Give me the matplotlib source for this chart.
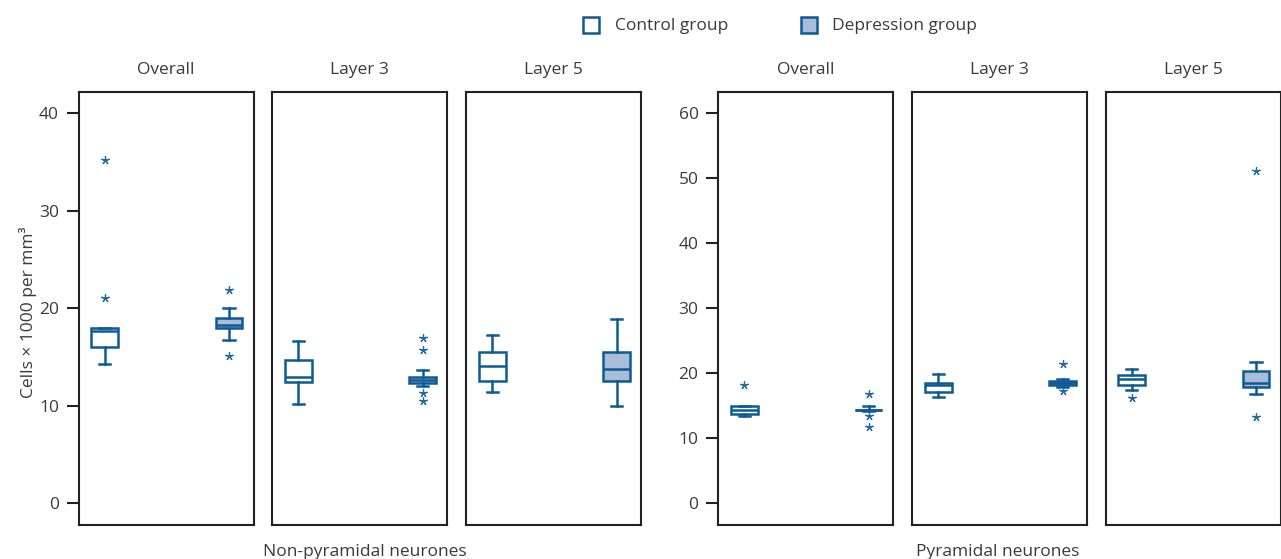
import matplotlib
matplotlib.use('Agg')
import matplotlib.pyplot as plt
from matplotlib.patches import Rectangle

# ---------------- data ----------------
groups = ['Non-pyramidal neurones', 'Pyramidal neurones']
layers = ['Overall', 'Layer 3', 'Layer 5']
series = ['Control group', 'Depression group']

# six panels: non-pyramidal (Overall, L3, L5), pyramidal (Overall, L3, L5)
med_ctrl = [17.7, 12.9, 14.05, 14.4, 18.25, 19.1]
q1_ctrl = [16.0, 12.45, 12.55, 13.7, 17.05, 18.25]
q3_ctrl = [18.0, 14.7, 15.5, 15.0, 18.55, 19.8]
lo_ctrl = [14.25, 10.2, 11.4, 13.4, 16.3, 17.45]
hi_ctrl = [18.0, 16.6, 17.3, 15.0, 19.95, 20.65]
out_ctrl = [[21.1, 35.25], [], [], [18.2], [], [16.15]]

med_dep = [18.3, 12.6, 13.75, 14.4, 18.55, 18.55]
q1_dep = [18.0, 12.3, 12.55, 14.4, 18.25, 17.95]
q3_dep = [19.05, 12.9, 15.5, 14.4, 18.75, 20.35]
lo_dep = [16.7, 12.05, 10.0, 14.2, 17.95, 16.75]
hi_dep = [20.0, 13.7, 18.85, 15.0, 19.2, 21.75]
out_dep = [[21.9, 15.1], [17.0, 15.7, 11.3, 10.45], [], [16.8, 13.5, 11.7],
           [21.45, 17.35], [13.2, 51.1]]

yticks_left = [0, 10, 20, 30, 40]
yticks_right = [0, 10, 20, 30, 40, 50, 60]

# ---------------- style ----------------
plt.rcParams['font.family'] = ['Open Sans', 'DejaVu Sans']
BLUE = '#0d5a95'
FILL = '#a9bcd8'
TXT = '#3a3a3a'

W, H = 1281, 559
fig = plt.figure(figsize=(W / 100, H / 100), dpi=100)

lefts = [78.5, 272, 466, 718, 912, 1105.5]
pw = 175
top, bot = 92, 525

def ax_rect(lx):
    return [lx / W, 1 - bot / H, pw / W, (bot - top) / H]

for i, lx in enumerate(lefts):
    ax = fig.add_axes(ax_rect(lx))
    left_group = i < 3
    if left_group:
        ax.set_ylim(-2.23, 42.18)
    else:
        ax.set_ylim(-3.34, 63.28)
    ax.set_xlim(0, 1)

    stats = [
        dict(med=med_ctrl[i], q1=q1_ctrl[i], q3=q3_ctrl[i],
             whislo=lo_ctrl[i], whishi=hi_ctrl[i], fliers=out_ctrl[i]),
        dict(med=med_dep[i], q1=q1_dep[i], q3=q3_dep[i],
             whislo=lo_dep[i], whishi=hi_dep[i], fliers=out_dep[i]),
    ]
    lw = 1.8
    bp = ax.bxp(stats, positions=[0.15, 0.86], widths=0.152,
                capwidths=0.065, patch_artist=True, manage_ticks=False,
                boxprops=dict(edgecolor=BLUE, linewidth=lw),
                whiskerprops=dict(color=BLUE, linewidth=lw),
                capprops=dict(color=BLUE, linewidth=lw),
                medianprops=dict(color=BLUE, linewidth=lw),
                flierprops=dict(marker=(5, 2, 0), markersize=6,
                                markerfacecolor=BLUE, markeredgecolor='#2369a6',
                                markeredgewidth=0.9, linestyle='none'))
    bp['boxes'][0].set_facecolor('white')
    bp['boxes'][1].set_facecolor(FILL)

    for s in ax.spines.values():
        s.set_linewidth(1.5)
        s.set_color('#222222')
    ax.set_xticks([])
    if i in (0, 3):
        ax.set_yticks(yticks_left if left_group else yticks_right)
        ax.tick_params(axis='y', length=9, width=1.5, color='#222222',
                       labelsize=12.5, labelcolor=TXT, pad=5)
    else:
        ax.set_yticks([])

    ax.text(0.5, 1 + 22 / (bot - top), layers[i % 3], transform=ax.transAxes,
            ha='center', va='center', fontsize=12.5, color=TXT)

# y label
fig.text(28 / W, 1 - 312 / H, 'Cells \u00d7 1000 per mm\u00b3', rotation=90,
         ha='center', va='center', fontsize=12.5, color=TXT)

# group labels
fig.text(365 / W, 1 - 552 / H, groups[0], ha='center', va='center',
         fontsize=12.5, color=TXT)
fig.text(998 / W, 1 - 552 / H, groups[1], ha='center', va='center',
         fontsize=12.5, color=TXT)

# legend
for x0, fc, lab, tx in [(583, 'white', series[0], 615),
                        (801, FILL, series[1], 832)]:
    r = Rectangle((x0 / W, 1 - 33 / H), 16 / W, 16 / H, transform=fig.transFigure,
                  facecolor=fc, edgecolor=BLUE, linewidth=1.8)
    fig.patches.append(r)
    fig.text(tx / W, 1 - 26 / H, lab, ha='left', va='center',
             fontsize=12.5, color=TXT)

fig.savefig('out.png', dpi=100)
